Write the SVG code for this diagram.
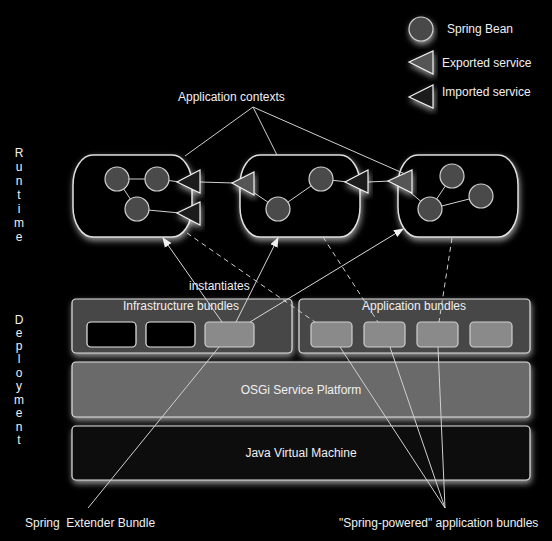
<svg xmlns="http://www.w3.org/2000/svg" width="552" height="541" viewBox="0 0 552 541">
<defs>
<style>
text{font-family:"Liberation Sans",Arial,sans-serif;font-size:12px;fill:#f0f0f0}
.ctx{fill:#000;stroke:#e0e0e0;stroke-width:1.5}
.bean{fill:#4a4a4a;stroke:#d0d0d0;stroke-width:1.2}
.exp{fill:#555;stroke:#f0f0f0;stroke-width:1.2}
.imp{fill:#1c1c1c;stroke:#f0f0f0;stroke-width:1.2}
.wire{stroke:#d0d0d0;stroke-width:1;fill:none}
.dash{stroke:#d0d0d0;stroke-width:1;fill:none;stroke-dasharray:5 4}
.arr{stroke:#d8d8d8;stroke-width:1;fill:none;marker-end:url(#ah)}
.grp{fill:#464646;stroke:#e0e0e0;stroke-width:1.2}
.bk{fill:#000;stroke:#e8e8e8;stroke-width:1.2}
.gb{fill:#8a8a8a;stroke:#cfcfcf;stroke-width:1.2}
.glow{filter:url(#gl)}
</style>
<filter id="gl" x="-20%" y="-30%" width="140%" height="160%">
<feDropShadow dx="1" dy="3" stdDeviation="3" flood-color="#ffffff" flood-opacity="0.6"/>
</filter>
<marker id="ah" viewBox="0 0 10 10" refX="9" refY="5" markerWidth="10" markerHeight="10" markerUnits="userSpaceOnUse" orient="auto">
<path d="M0,1 L10,5 L0,9 Z" fill="#f0f0f0"/>
</marker>
</defs>
<rect x="0" y="0" width="552" height="541" fill="#000"/>

<g id="side-labels">
<text x="19" y="157" text-anchor="middle">R</text>
<text x="19" y="171" text-anchor="middle">u</text>
<text x="19" y="185" text-anchor="middle">n</text>
<text x="19" y="199" text-anchor="middle">t</text>
<text x="19" y="213" text-anchor="middle">i</text>
<text x="19" y="227" text-anchor="middle">m</text>
<text x="19" y="241" text-anchor="middle">e</text>
<text x="19" y="324" text-anchor="middle">D</text>
<text x="19" y="337" text-anchor="middle">e</text>
<text x="19" y="350" text-anchor="middle">p</text>
<text x="19" y="363" text-anchor="middle">l</text>
<text x="19" y="377" text-anchor="middle">o</text>
<text x="19" y="390" text-anchor="middle">y</text>
<text x="19" y="404" text-anchor="middle">m</text>
<text x="19" y="417" text-anchor="middle">e</text>
<text x="19" y="431" text-anchor="middle">n</text>
<text x="19" y="444" text-anchor="middle">t</text>
</g>

<g id="legend">
<circle class="bean glow" cx="421" cy="29" r="12"/>
<text x="447" y="33">Spring Bean</text>
<polygon class="exp glow" points="409,62 433,51 433,74"/>
<text x="442" y="67">Exported service</text>
<polygon class="imp glow" points="409,97 433,85 433,108"/>
<text x="442" y="96">Imported service</text>
</g>

<g id="deployment">
<g id="jvm">
<rect class="glow" x="72" y="426" width="458" height="54" rx="4" fill="#0e0e0e" stroke="#e0e0e0" stroke-width="1.2"/>
<text x="301" y="457" text-anchor="middle">Java Virtual Machine</text>
</g>
<g id="osgi">
<rect class="glow" x="72" y="362" width="458" height="55" rx="4" fill="#6a6a6a" stroke="#e0e0e0" stroke-width="1.2"/>
<text x="301" y="394" text-anchor="middle">OSGi Service Platform</text>
</g>
<g id="infrastructure-bundles">
<rect class="grp glow" x="72" y="299" width="220" height="54" rx="4"/>
<text x="181" y="310" text-anchor="middle">Infrastructure bundles</text>
<rect class="bk" x="87" y="322" width="49" height="25" rx="4"/>
<rect class="bk" x="146" y="322" width="49" height="25" rx="4"/>
<rect id="extender" class="gb" x="205" y="322" width="49" height="25" rx="4"/>
</g>
<g id="application-bundles">
<rect class="grp glow" x="299" y="299" width="231" height="54" rx="4"/>
<text x="414" y="310" text-anchor="middle">Application bundles</text>
<rect class="gb" x="311" y="322" width="41" height="25" rx="4"/>
<rect class="gb" x="364" y="322" width="41" height="25" rx="4"/>
<rect class="gb" x="417" y="322" width="41" height="25" rx="4"/>
<rect class="gb" x="470" y="322" width="42" height="25" rx="4"/>
</g>
</g>

<g id="context-1">
<rect class="ctx glow" x="73" y="155" width="119" height="82" rx="20" ry="30"/>
</g>
<g id="context-2">
<rect class="ctx glow" x="240" y="155" width="120" height="82" rx="20" ry="30"/>
</g>
<g id="context-3">
<rect class="ctx glow" x="398" y="155" width="120" height="82" rx="20" ry="30"/>
</g>

<g id="bean-wires">
<line class="wire" x1="117" y1="179" x2="157" y2="179"/>
<line class="wire" x1="117" y1="179" x2="137" y2="209"/>
<line class="wire" x1="157" y1="179" x2="180" y2="182"/>
<line class="wire" x1="137" y1="209" x2="180" y2="213"/>
<line class="wire" x1="200" y1="182" x2="234" y2="183"/>
<line class="wire" x1="250" y1="190" x2="278" y2="209"/>
<line class="wire" x1="278" y1="209" x2="321" y2="179"/>
<line class="wire" x1="321" y1="179" x2="348" y2="182"/>
<line class="wire" x1="368" y1="182" x2="390" y2="181"/>
<line class="wire" x1="405" y1="188" x2="430" y2="209"/>
<line class="wire" x1="430" y1="209" x2="452" y2="176"/>
<line class="wire" x1="430" y1="209" x2="481" y2="196"/>
</g>

<g id="beans">
<circle class="bean" cx="117" cy="179" r="12"/>
<circle class="bean" cx="157" cy="179" r="12"/>
<circle class="bean" cx="137" cy="209" r="12"/>
<circle class="bean" cx="278" cy="209" r="12"/>
<circle class="bean" cx="321" cy="179" r="12"/>
<circle class="bean" cx="430" cy="209" r="12"/>
<circle class="bean" cx="452" cy="176" r="12"/>
<circle class="bean" cx="481" cy="196" r="12"/>
</g>

<g id="services">
<polygon class="imp glow" points="177,182 200,170 200,193"/>
<polygon class="imp glow" points="177,213 200,202 200,225"/>
<polygon class="exp glow" points="232,183 254,172 254,195"/>
<polygon class="imp glow" points="345,182 368,170 368,193"/>
<polygon class="exp glow" points="388,181 412,170 412,193"/>
</g>

<g id="labels">
<text x="178" y="101">Application contexts</text>
<text x="189" y="290">instantiates</text>
<text x="25" y="527" xml:space="preserve" style="white-space:pre">Spring  Extender Bundle</text>
<text x="339" y="527">"Spring-powered" application bundles</text>
</g>

<g id="connectors">
<line class="wire" x1="253" y1="107" x2="185" y2="156"/>
<line class="wire" x1="253" y1="107" x2="277" y2="155"/>
<line class="wire" x1="253" y1="107" x2="405" y2="174"/>
<line class="arr" x1="222" y1="322" x2="163" y2="238"/>
<line class="arr" x1="236" y1="322" x2="278" y2="238"/>
<line class="arr" x1="250" y1="322" x2="403" y2="229"/>
<line class="dash" x1="187" y1="233" x2="315" y2="322"/>
<line class="dash" x1="323" y1="237" x2="378" y2="322"/>
<line class="dash" x1="452" y1="238" x2="439" y2="322"/>
<line class="wire" x1="88" y1="508" x2="219" y2="347"/>
<line class="wire" x1="445" y1="508" x2="340" y2="347"/>
<line class="wire" x1="445" y1="508" x2="390" y2="347"/>
<line class="wire" x1="445" y1="508" x2="438" y2="347"/>
</g>
</svg>
